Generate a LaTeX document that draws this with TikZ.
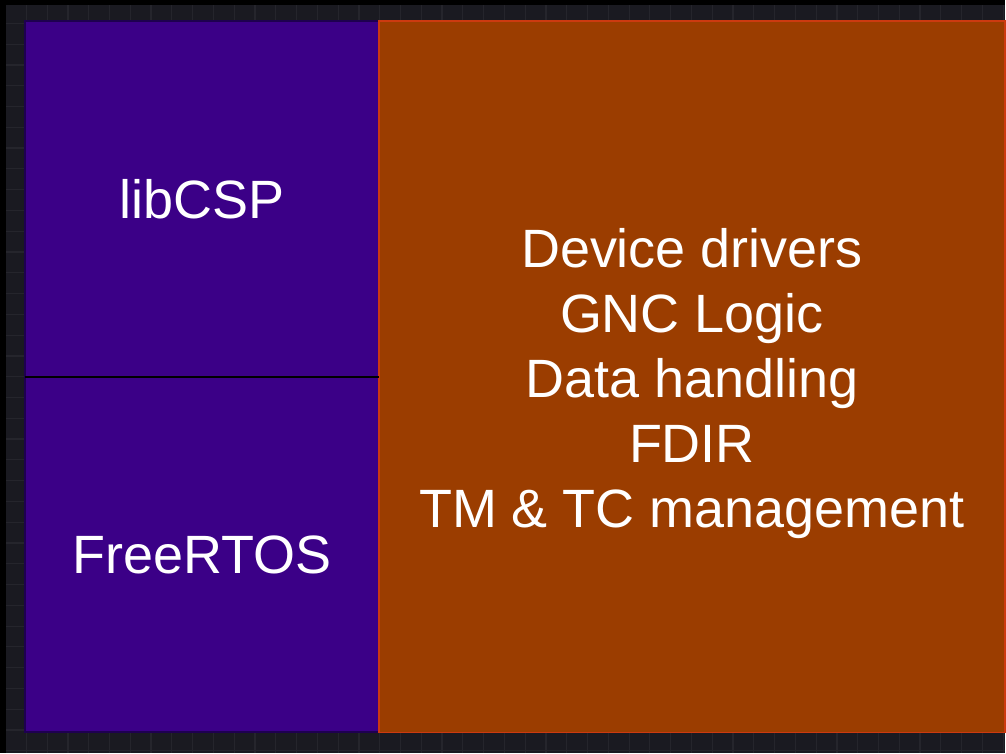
\documentclass[tikz,border=0pt]{standalone}
\usepackage{fontspec}
\setmainfont{Liberation Sans}
\usetikzlibrary{positioning}
\definecolor{BG-dark}{HTML}{1A1A21}
\definecolor{BG-grid}{HTML}{25252C}
\definecolor{SW-purple}{HTML}{3B0087}
\definecolor{SW-dpurple}{HTML}{1E0050}
\definecolor{SW-orange}{HTML}{9B3D00}
\definecolor{SW-red}{HTML}{CC3A10}
\tikzset{
  layer/.style={draw, inner sep=0pt, outer sep=0pt, align=center, text=white,
    font=\fontsize{27}{32.5}\selectfont},
  oslayer/.style={layer, fill=SW-purple, draw=SW-dpurple, line width=1pt,
    minimum width=177pt, minimum height=178pt},
  applayer/.style={layer, fill=SW-orange, draw=SW-red, line width=0.8pt,
    minimum width=313.5pt, minimum height=356pt}
}

\begin{document}
\begin{tikzpicture}[x=0.5pt,y=-0.5pt]
  % background with faint grid
  \fill[black] (0,0) rectangle (1006,754);
  \fill[BG-dark] (6,5) rectangle (1006,754);
  \foreach \i in {1,...,48}
    \draw[BG-grid, line width=0.6pt] ({5.6+20.8*\i},5) -- ({5.6+20.8*\i},754);
  \foreach \i in {1,...,36}
    \draw[BG-grid, line width=0.6pt] (6,{2.6+20.8*\i}) -- (1006,{2.6+20.8*\i});

  \node[oslayer] (Lib) at (202,199) {libCSP};
  \node[oslayer, below=0pt of Lib] (RTOS) {FreeRTOS};
  \node[applayer, anchor=north west] (App) at (Lib.north east)
    {\raisebox{0pt}[\height][\dimexpr\depth-8pt\relax]{\begin{tabular}{@{}c@{}}Device drivers\\GNC Logic\\Data handling\\FDIR\\TM \& TC management\end{tabular}}};
  \draw[black, line width=1pt] (Lib.south west) -- (Lib.south east);

  \useasboundingbox (0,0) rectangle (1006,754);
\end{tikzpicture}
\end{document}
